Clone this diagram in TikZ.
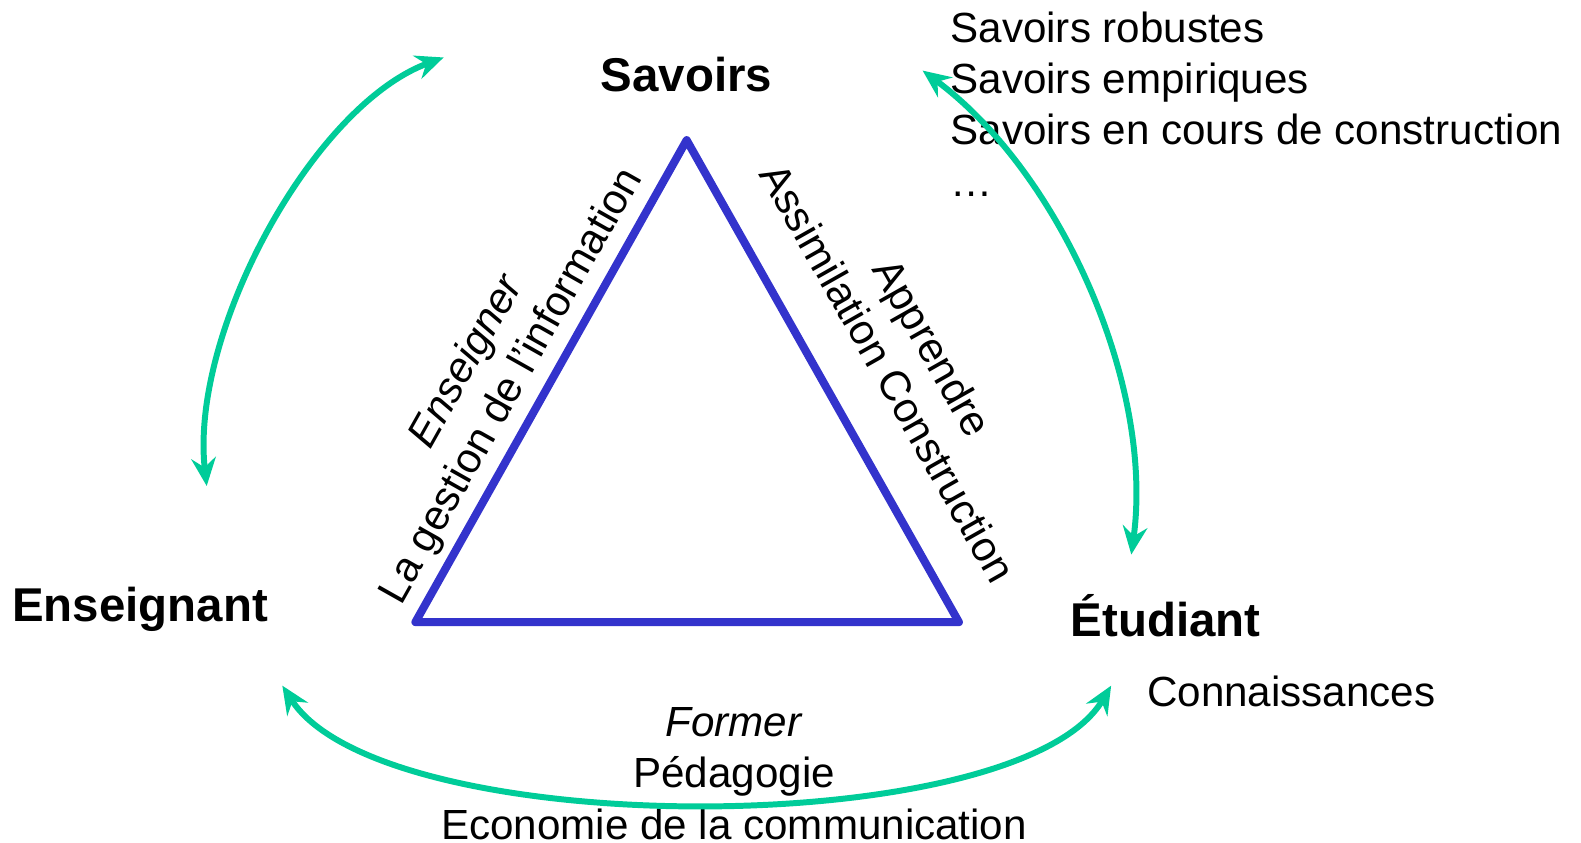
\documentclass[tikz,border=0pt]{standalone}
\usepackage{fontspec}
\setmainfont{Liberation Sans}
\usetikzlibrary{arrows.meta}
\definecolor{triblue}{RGB}{51,51,204}
\definecolor{arcgreen}{RGB}{0,204,153}
\tikzset{
  pole/.style={font=\fontsize{13.5}{16}\selectfont\bfseries, inner sep=0pt},
  gloss/.style={font=\fontsize{12}{14.6}\selectfont, inner sep=0pt},
  liaison/.style={draw=arcgreen, line width=1.7pt, {Stealth[length=8pt,width=7pt,inset=2.7pt]}-{Stealth[length=8pt,width=7pt,inset=2.7pt]}},
}
\begin{document}
\begin{tikzpicture}[x=0.010083cm,y=-0.010083cm]
        \useasboundingbox (0,0) rectangle (1568,836);

            % triangle
            \coordinate (sEns) at (412,617);
            \coordinate (sSav) at (681,139);
            \coordinate (sEtu) at (951,617);
            \path[draw=triblue,line width=2.3pt,line join=round] (sEns) -- (sSav) -- (sEtu) -- cycle;

            \node[pole,anchor=base] (savoirs) at (681,91) {Savoirs};
            \node[pole,anchor=base] (enseignant) at (139,616) {Enseignant};
            \node[pole,anchor=base] (etudiant) at (1156,631) {Étudiant};

            \node[gloss,anchor=north west,align=left] (listeSav) at (942,11)
              {Savoirs robustes\\Savoirs empiriques\\Savoirs en cours de construction\\…};
            \node[gloss,anchor=base west] (connaiss) at (1137,701) {Connaissances};

            \node[gloss,align=center,rotate=60.6] (enseigner) at (486,371)
              {\textit{Enseigner}\\La gestion de l’information};
            \node[gloss,align=center,rotate=-60.5] (apprendre) at (903,357)
              {Apprendre\\Assimilation Construction};
            \node[gloss,anchor=north,align=center] (former) at (728,701)
              {\textit{Former}\\Pédagogie\\Economie de la communication};

            % arcs
            \coordinate (a1) at (205,482);
            \coordinate (a2) at (440,57);
            \coordinate (b1) at (915,70);
            \coordinate (b2) at (1122,550);
            \coordinate (c1) at (280,680);
            \coordinate (c2) at (1102,680);
            \path[liaison] (a1) .. controls (188,330) and (310,105) .. (a2);
            \path[liaison] (b1) .. controls (1050,170) and (1145,380) .. (b2);
            \path[liaison] (c1) .. controls (380,835) and (1010,835) .. (c2);
        \end{tikzpicture}
\end{document}
